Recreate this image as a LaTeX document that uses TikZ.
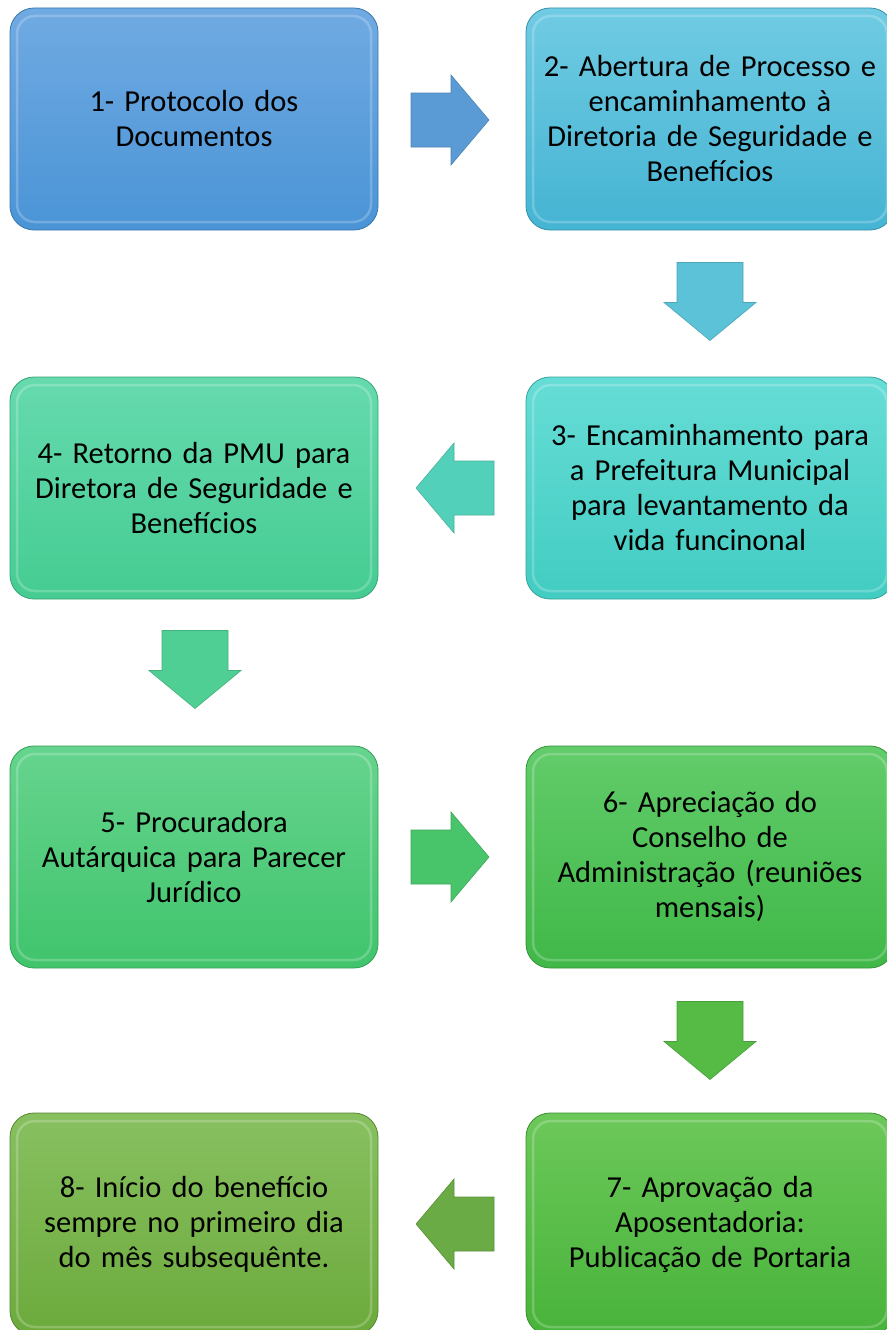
\documentclass[tikz,border=0pt]{standalone}
\usepackage{fontspec}
\setmainfont{Carlito}
\usetikzlibrary{calc}
\definecolor{aA}{HTML}{5B9BD5}
\definecolor{aB}{HTML}{5BC2D8}
\definecolor{aC}{HTML}{52D0BA}
\definecolor{aD}{HTML}{4FCF94}
\definecolor{aE}{HTML}{48C46A}
\definecolor{aF}{HTML}{55BB45}
\definecolor{aG}{HTML}{6AAB45}
\definecolor{tA}{HTML}{70AAE2}\definecolor{bA}{HTML}{4A94D6}
\definecolor{tB}{HTML}{70CBE3}\definecolor{bB}{HTML}{45B4D3}
\definecolor{tC}{HTML}{66DDD6}\definecolor{bC}{HTML}{42CCC2}
\definecolor{tD}{HTML}{66DAAE}\definecolor{bD}{HTML}{45CC92}
\definecolor{tE}{HTML}{66D48E}\definecolor{bE}{HTML}{40C46C}
\definecolor{tF}{HTML}{62CC6A}\definecolor{bF}{HTML}{40B848}
\definecolor{tG}{HTML}{6CC85A}\definecolor{bG}{HTML}{48B33A}
\definecolor{tH}{HTML}{88C060}\definecolor{bH}{HTML}{6CAA3C}
\tikzset{
  x=1pt,y=1pt,
  box/.style 2 args={draw=#2!80!black, line width=0.8pt, top color=#1, bottom color=#2,
    rounded corners=24pt, minimum width=368pt, minimum height=222pt, inner sep=0pt,
    text width=360pt, align=center, font=\fontsize{30.5}{35}\selectfont,
    path picture={\draw[white,opacity=.22,line width=2.5pt,rounded corners=18pt]
      ([shift={(7pt,8pt)}]path picture bounding box.south west) rectangle
      ([shift={(-7pt,-8pt)}]path picture bounding box.north east);}},
  arr/.style={fill=#1, draw=#1!85!black, line width=0.6pt},
  pics/rarr/.style={code={\path[arr=#1] (-39,27) -- (1,27) -- (1,45) -- (39,0) -- (1,-45) -- (1,-27) -- (-39,-27) -- cycle;}},
  pics/larr/.style={code={\path[arr=#1] (39,27) -- (-1,27) -- (-1,45) -- (-39,0) -- (-1,-45) -- (-1,-27) -- (39,-27) -- cycle;}},
  pics/darr/.style={code={\path[arr=#1] (-33,39) -- (33,39) -- (33,-1) -- (46,-1) -- (0,-39) -- (-46,-1) -- (-33,-1) -- cycle;}},
}
\begin{document}
\begin{tikzpicture}
\useasboundingbox (0,0) rectangle (886,-1330);
\node[box={tA}{bA}] (b1) at (194,-119) {1- Protocolo dos\\Documentos};
\node[box={tB}{bB}] (b2) at (710,-119) {2- Abertura de Processo e\\encaminhamento à\\Diretoria de Seguridade e\\Benefícios};
\node[box={tC}{bC}] (b3) at (710,-488) {3- Encaminhamento para\\a Prefeitura Municipal\\para levantamento da\\vida funcinonal};
\node[box={tD}{bD}] (b4) at (194,-488) {4- Retorno da PMU para\\Diretora de Seguridade e\\Benefícios};
\node[box={tE}{bE}] (b5) at (194,-857) {5- Procuradora\\Autárquica para Parecer\\Jurídico};
\node[box={tF}{bF}] (b6) at (710,-857) {6- Apreciação do\\Conselho de\\Administração (reuniões\\mensais)};
\node[box={tG}{bG}] (b7) at (710,-1224) {7- Aprovação da\\Aposentadoria:\\Publicação de Portaria};
\node[box={tH}{bH}] (b8) at (194,-1224) {8- Início do benefício\\sempre no primeiro dia\\do mês subsequênte.};
\pic at ($(b1.east)!0.5!(b2.west)+(-2,-1)$) {rarr=aA};
\pic at ($(b2.south)!0.5!(b3.north)+(0,2)$) {darr=aB};
\pic at ($(b3.west)!0.5!(b4.east)+(3,0)$) {larr=aC};
\pic at ($(b4.south)!0.5!(b5.north)+(1,3)$) {darr=aD};
\pic at ($(b5.east)!0.5!(b6.west)+(-2,0)$) {rarr=aE};
\pic at ($(b6.south)!0.5!(b7.north)+(0,0)$) {darr=aF};
\pic at ($(b7.west)!0.5!(b8.east)+(3,0)$) {larr=aG};
\end{tikzpicture}
\end{document}
